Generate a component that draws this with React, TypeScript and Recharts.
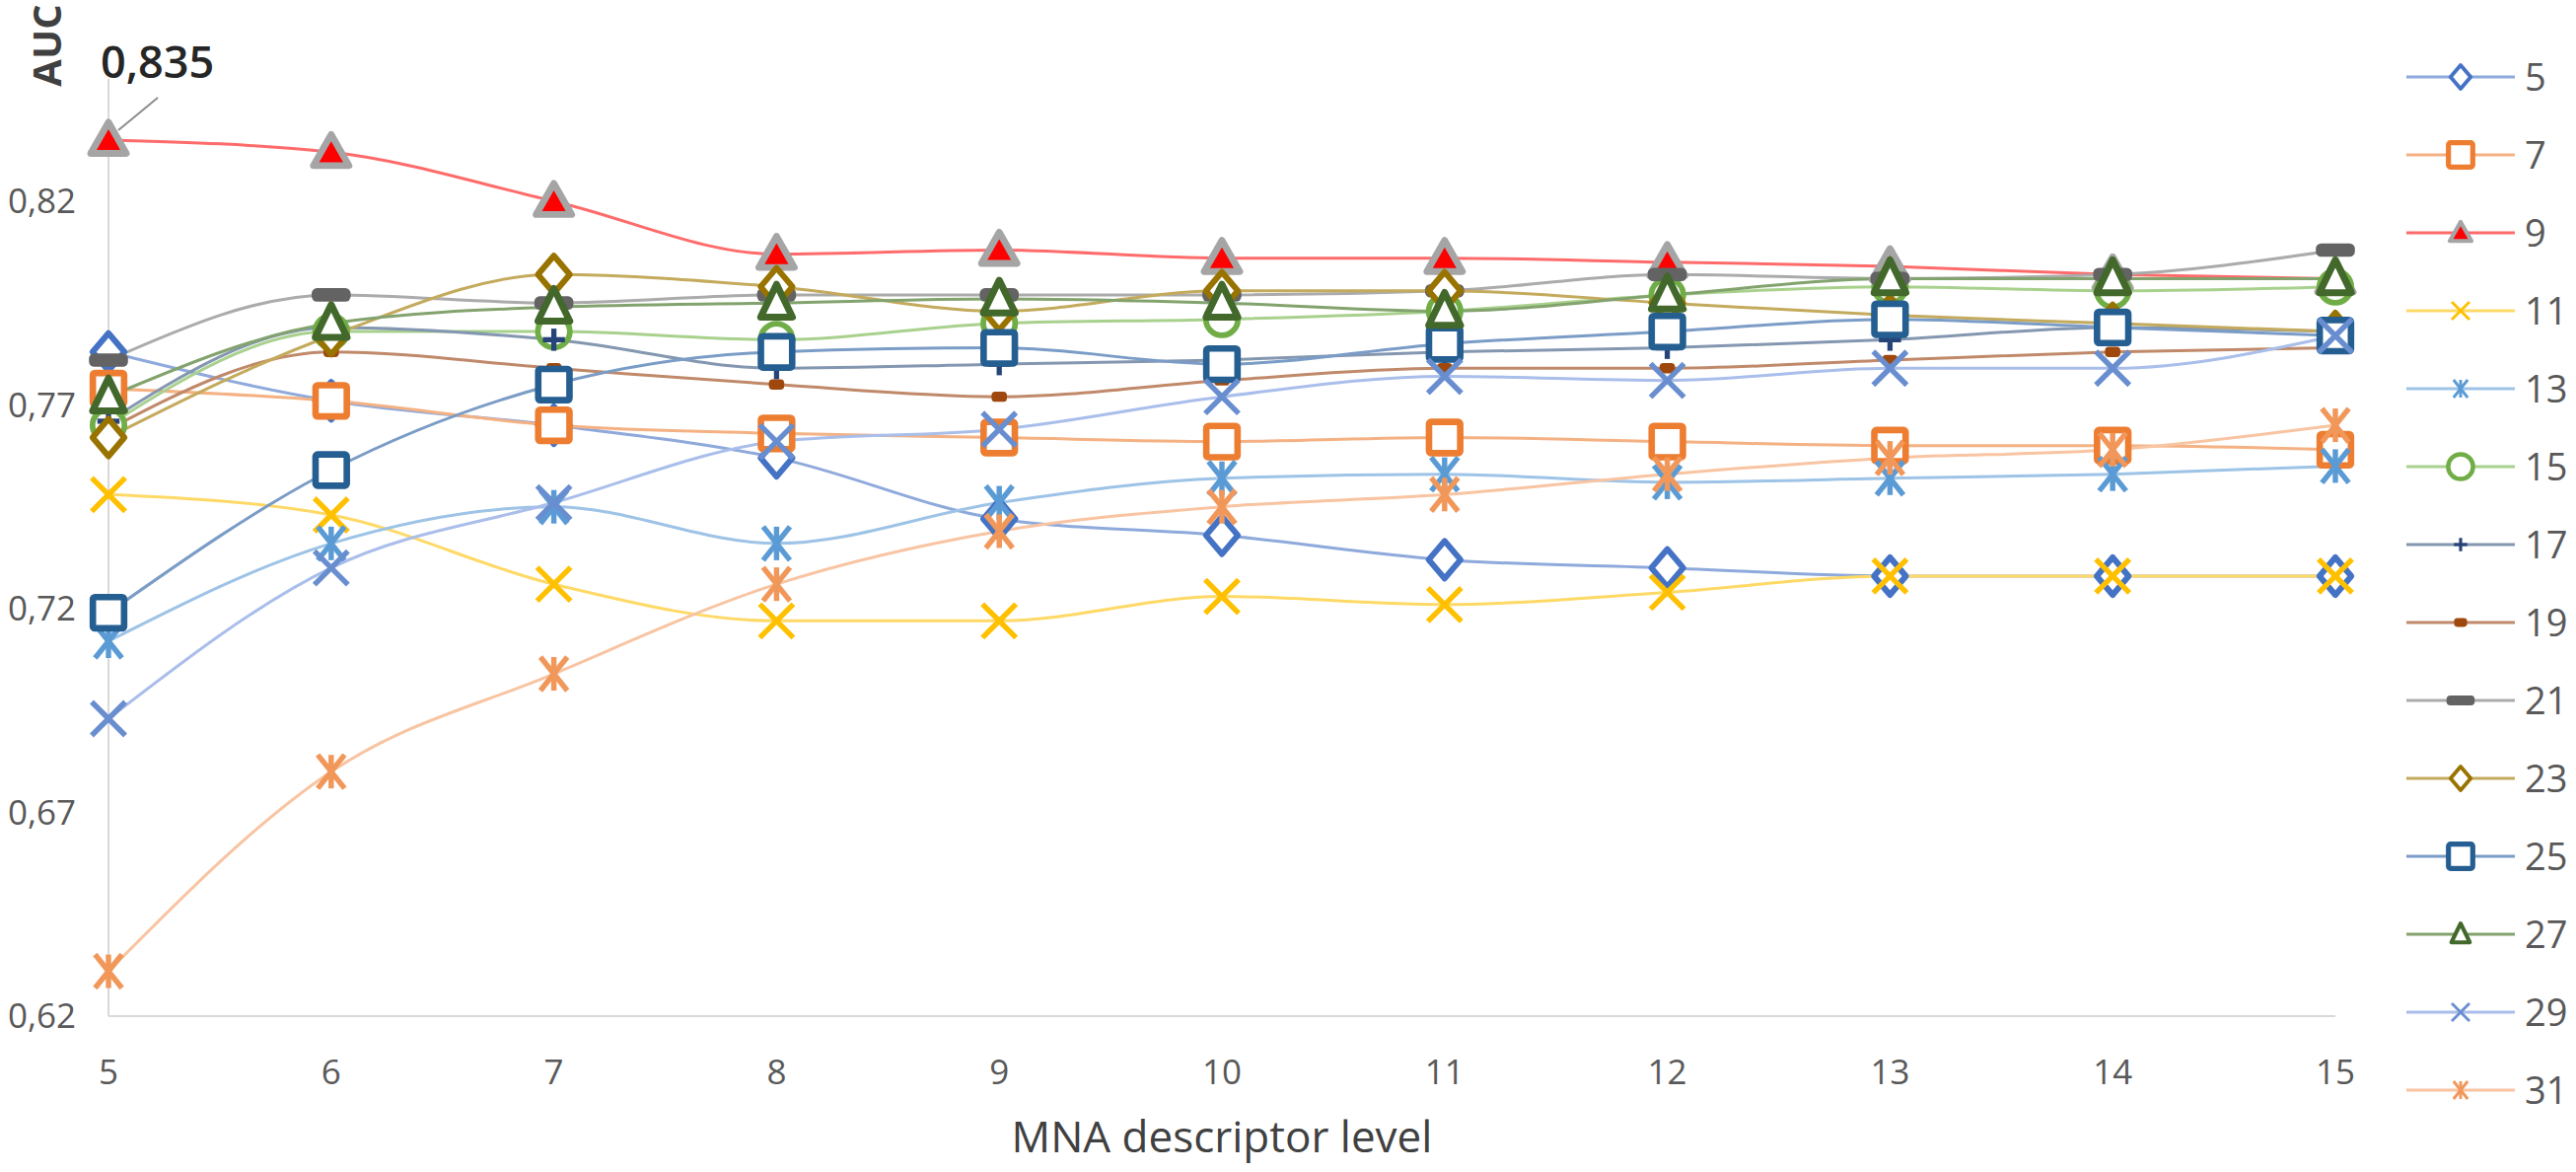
import React from "react";
import { LineChart, Line, XAxis, YAxis, Legend } from "recharts";

const levels = [5, 6, 7, 8, 9, 10, 11, 12, 13, 14, 15];
const yTicks = [0.62, 0.67, 0.72, 0.77, 0.82];

const auc5 = [0.783, 0.771, 0.765, 0.757, 0.742, 0.738, 0.732, 0.730, 0.728, 0.728, 0.728];
const auc7 = [0.774, 0.771, 0.765, 0.763, 0.762, 0.761, 0.762, 0.761, 0.760, 0.760, 0.759];
const auc9 = [0.835, 0.832, 0.820, 0.807, 0.808, 0.806, 0.806, 0.805, 0.804, 0.802, 0.801];
const auc11 = [0.748, 0.743, 0.726, 0.717, 0.717, 0.723, 0.721, 0.724, 0.728, 0.728, 0.728];
const auc13 = [0.712, 0.736, 0.745, 0.736, 0.746, 0.752, 0.753, 0.751, 0.752, 0.753, 0.755];
const auc15 = [0.765, 0.788, 0.788, 0.786, 0.790, 0.791, 0.793, 0.797, 0.799, 0.798, 0.799];
const auc17 = [0.766, 0.789, 0.786, 0.779, 0.780, 0.781, 0.783, 0.784, 0.786, 0.789, 0.788];
const auc19 = [0.764, 0.783, 0.779, 0.775, 0.772, 0.776, 0.779, 0.779, 0.781, 0.783, 0.784];
const auc21 = [0.781, 0.797, 0.795, 0.797, 0.797, 0.797, 0.798, 0.802, 0.801, 0.802, 0.808];
const auc23 = [0.762, 0.787, 0.802, 0.799, 0.793, 0.798, 0.798, 0.795, 0.792, 0.790, 0.788];
const auc25 = [0.719, 0.754, 0.775, 0.783, 0.784, 0.780, 0.785, 0.788, 0.791, 0.789, 0.787];
const auc27 = [0.772, 0.790, 0.794, 0.795, 0.796, 0.795, 0.793, 0.797, 0.801, 0.801, 0.801];
const auc29 = [0.693, 0.730, 0.746, 0.761, 0.764, 0.772, 0.777, 0.776, 0.779, 0.779, 0.787];
const auc31 = [0.631, 0.680, 0.704, 0.726, 0.739, 0.745, 0.748, 0.753, 0.757, 0.759, 0.765];

const seriesNames = ["5", "7", "9", "11", "13", "15", "17", "19", "21", "23", "25", "27", "29", "31"];
const seriesValues = [auc5, auc7, auc9, auc11, auc13, auc15, auc17, auc19, auc21, auc23, auc25, auc27, auc29, auc31];

type Style = { line: string; marker: string; kind: string; fill?: string };
const styles: Record<string, Style> = {
  "5": { line: "#8EA9DB", marker: "#4472C4", kind: "diamond" },
  "7": { line: "#F4B183", marker: "#ED7D31", kind: "square" },
  "9": { line: "#FF6B6B", marker: "#A5A5A5", kind: "triangleFilled", fill: "#FF0000" },
  "11": { line: "#FFD966", marker: "#FFC000", kind: "x" },
  "13": { line: "#9DC3E6", marker: "#5B9BD5", kind: "star" },
  "15": { line: "#A9D18E", marker: "#70AD47", kind: "circle" },
  "17": { line: "#8497B0", marker: "#264478", kind: "plus" },
  "19": { line: "#C0896A", marker: "#9E480E", kind: "smallDash" },
  "21": { line: "#ABABAB", marker: "#636363", kind: "dash" },
  "23": { line: "#C4AA5C", marker: "#997300", kind: "diamond" },
  "25": { line: "#7A9CC6", marker: "#255E91", kind: "square" },
  "27": { line: "#83A36E", marker: "#43682B", kind: "triangle" },
  "29": { line: "#A9BEEA", marker: "#698ED0", kind: "x" },
  "31": { line: "#F8C4A2", marker: "#F1975A", kind: "star" },
};

const data = levels.map((lv, i) => {
  const row: Record<string, number> = { level: lv };
  seriesNames.forEach((n, k) => {
    row["s" + n] = seriesValues[k][i];
  });
  return row;
});

const FONT = "'Open Sans', 'Noto Sans', sans-serif";

function Marker({ kind, cx, cy, s, color, fill }: { kind: string; cx: number; cy: number; s: number; color: string; fill?: string }) {
  const h = s / 2;
  const sw = Math.max(2.5, s * 0.16);
  switch (kind) {
    case "diamond":
      return (
        <polygon
          points={`${cx},${cy - h} ${cx + h * 0.85},${cy} ${cx},${cy + h} ${cx - h * 0.85},${cy}`}
          fill="#fff"
          stroke={color}
          strokeWidth={sw}
          strokeLinejoin="round"
        />
      );
    case "square":
      return <rect x={cx - h * 0.88} y={cy - h * 0.88} width={h * 1.76} height={h * 1.76} fill="#fff" stroke={color} strokeWidth={sw * 1.15} rx={2} />;
    case "triangleFilled":
      return (
        <polygon
          points={`${cx},${cy - h} ${cx + h},${cy + h * 0.75} ${cx - h},${cy + h * 0.75}`}
          fill={fill}
          stroke={color}
          strokeWidth={sw * 1.2}
          strokeLinejoin="round"
        />
      );
    case "triangle":
      return (
        <polygon
          points={`${cx},${cy - h} ${cx + h * 0.85},${cy + h * 0.75} ${cx - h * 0.85},${cy + h * 0.75}`}
          fill="#fff"
          stroke={color}
          strokeWidth={sw * 1.15}
          strokeLinejoin="round"
        />
      );
    case "x":
      return (
        <g stroke={color} strokeWidth={sw} strokeLinecap="butt">
          <line x1={cx - h} y1={cy - h} x2={cx + h} y2={cy + h} />
          <line x1={cx - h} y1={cy + h} x2={cx + h} y2={cy - h} />
        </g>
      );
    case "star":
      return (
        <g stroke={color} strokeWidth={sw} strokeLinecap="butt">
          <line x1={cx - h * 0.8} y1={cy - h} x2={cx + h * 0.8} y2={cy + h} />
          <line x1={cx - h * 0.8} y1={cy + h} x2={cx + h * 0.8} y2={cy - h} />
          <line x1={cx} y1={cy - h} x2={cx} y2={cy + h} />
        </g>
      );
    case "circle":
      return <circle cx={cx} cy={cy} r={h * 0.9} fill="#fff" stroke={color} strokeWidth={sw} />;
    case "plus":
      return (
        <g stroke={color} strokeWidth={sw * 1.1}>
          <line x1={cx - h * 0.75} y1={cy} x2={cx + h * 0.75} y2={cy} />
          <line x1={cx} y1={cy - h * 0.75} x2={cx} y2={cy + h * 0.75} />
        </g>
      );
    case "smallDash":
      return <rect x={cx - h * 0.6} y={cy - h * 0.4} width={h * 1.2} height={h * 0.8} rx={h * 0.3} fill={color} />;
    case "dash":
      return <rect x={cx - h * 1.1} y={cy - h * 0.38} width={h * 2.2} height={h * 0.76} rx={h * 0.3} fill={color} />;
    default:
      return null;
  }
}

const markerSize: Record<string, number> = {
  diamond: 38,
  square: 36,
  triangleFilled: 36,
  triangle: 38,
  x: 34,
  star: 34,
  circle: 36,
  plus: 30,
  smallDash: 26,
  dash: 36,
};

const legendSize: Record<string, number> = {
  diamond: 24,
  square: 28,
  triangleFilled: 22,
  triangle: 22,
  x: 18,
  star: 18,
  circle: 28,
  plus: 18,
  smallDash: 22,
  dash: 26,
};

function LegendContent() {
  return (
    <svg width={182} height={1110} style={{ overflow: "visible" }}>
      {seriesNames.map((n, i) => {
        const st = styles[n];
        const cy = 40 + i * 79;
        return (
          <g key={n}>
            <line x1={10} y1={cy} x2={120} y2={cy} stroke={st.line} strokeWidth={3} />
            <Marker kind={st.kind} cx={65} cy={cy} s={legendSize[st.kind]} color={st.marker} fill={st.fill} />
            <text x={130} y={cy} dy="0.36em" fontSize={38} fill="#595959" fontFamily={FONT}>
              {n}
            </text>
          </g>
        );
      })}
    </svg>
  );
}

function Annotation(props: any) {
  const { x, y, index } = props;
  if (index !== 0 || x == null || y == null) return <g />;
  return (
    <g>
      <line x1={x + 10} y1={y - 10} x2={x + 50} y2={y - 43} stroke="#8C8C8C" strokeWidth={2} />
      <text x={x - 8} y={y - 63} fontSize={45} fill="#262626" fontFamily={FONT} fontWeight={600}>
        0,835
      </text>
    </g>
  );
}

function AucLabel() {
  const cx = 48;
  const cy = 46;
  return (
    <text
      x={cx}
      y={cy}
      transform={`rotate(-90 ${cx} ${cy})`}
      textAnchor="middle"
      dy="0.36em"
      fontSize={40}
      fontWeight={700}
      fill="#404040"
      fontFamily={FONT}
    >
      AUC
    </text>
  );
}

export default function App() {
  return (
    <div style={{ position: "absolute", left: 0, top: 0, width: 2612, height: 1188, background: "#fff" }}>
      <LineChart width={2612} height={1188} data={data} margin={{ top: 80, right: 244, bottom: 88, left: 0 }}>
        <XAxis
          dataKey="level"
          type="number"
          domain={[5, 15]}
          ticks={levels}
          height={70}
          tickLine={false}
          tickSize={0}
          tickMargin={44}
          axisLine={{ stroke: "#D9D9D9", strokeWidth: 2 }}
          tick={{ fontSize: 35, fill: "#595959", fontFamily: FONT }}
          interval={0}
          label={{
            value: "MNA descriptor level",
            position: "insideBottom",
            offset: -68,
            fontSize: 44,
            fill: "#404040",
            fontFamily: FONT,
          }}
        />
        <YAxis
          type="number"
          domain={[0.62, 0.85]}
          ticks={yTicks}
          width={110}
          tickLine={false}
          tickSize={0}
          tickMargin={33}
          axisLine={{ stroke: "#D9D9D9", strokeWidth: 2 }}
          tick={{ fontSize: 35, fill: "#595959", fontFamily: FONT }}
          tickFormatter={(v: number) => v.toFixed(2).replace(".", ",")}
          interval={0}
          allowDataOverflow
          label={{ content: AucLabel }}
        />
        <Legend
          layout="vertical"
          align="center"
          verticalAlign="middle"
          wrapperStyle={{ left: 2430, top: 38, width: 182, height: 1110 }}
          content={LegendContent}
        />
        {seriesNames.map((n) => {
          const st = styles[n];
          return (
            <Line
              key={n}
              type="monotone"
              dataKey={"s" + n}
              name={n}
              stroke={st.line}
              strokeWidth={3}
              isAnimationActive={false}
              dot={(p: any) => (
                <Marker
                  key={`${n}-${p.index}`}
                  kind={st.kind}
                  cx={p.cx}
                  cy={p.cy}
                  s={markerSize[st.kind]}
                  color={st.marker}
                  fill={st.fill}
                />
              )}
              activeDot={false}
              label={n === "9" ? Annotation : undefined}
            />
          );
        })}
      </LineChart>
    </div>
  );
}
